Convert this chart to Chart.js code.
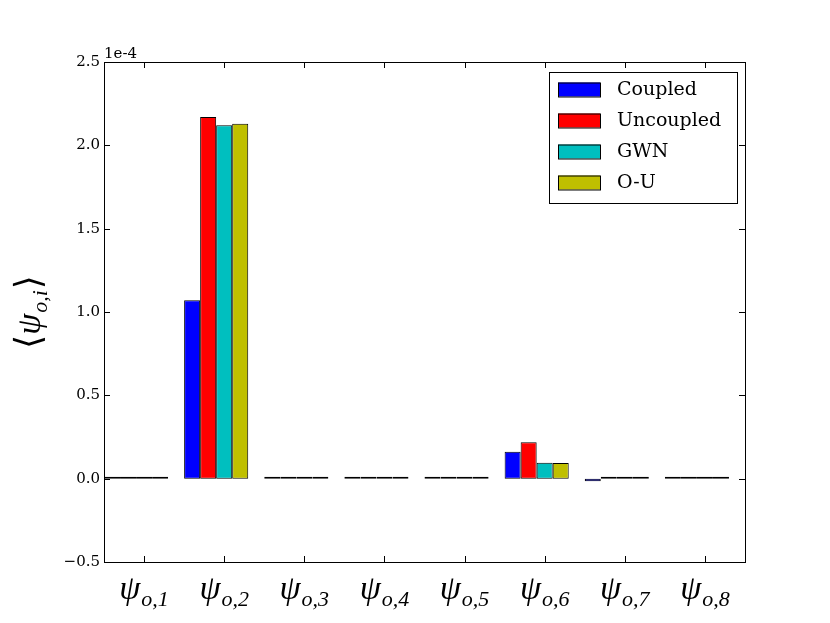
<!DOCTYPE html>
<html>
<head>
<meta charset="utf-8">
<script src="https://cdn.jsdelivr.net/npm/chart.js@4/dist/chart.umd.min.js"></script>
<style>
  html, body { margin: 0; padding: 0; background: #fff; }
  #wrap { width: 830px; height: 623px; }
</style>
</head>
<body>
<div id="wrap"><canvas id="chart"></canvas></div>
<script>
// valeurs en unités de 1e-4
const categories = ['ψ_{o,1}', 'ψ_{o,2}', 'ψ_{o,3}', 'ψ_{o,4}', 'ψ_{o,5}', 'ψ_{o,6}', 'ψ_{o,7}', 'ψ_{o,8}'];
const seriesNames = ['Coupled', 'Uncoupled', 'GWN', 'O-U'];
const seriesColors = ['#0000ff', '#ff0000', '#00bfbf', '#bfbf00'];
const coupled   = [0.002, 1.07, 0.002, 0.002, 0.005, 0.162, -0.015, 0.003];
const uncoupled = [0.001, 2.17, 0.001, 0.002, 0.002, 0.218, 0.001, 0.010];
const gwn       = [0.003, 2.12, 0.001, 0.002, 0.001, 0.096, 0.001, 0.010];
const ou        = [0.010, 2.13, 0.001, 0.002, 0.002, 0.094, 0.001, 0.010];
const yTicks = [-0.5, 0.0, 0.5, 1.0, 1.5, 2.0, 2.5];
const offsetText = '1e-4';
const yTitle = ['⟨', 'ψ', 'o,i', '⟩'];

const allSeries = [coupled, uncoupled, gwn, ou];
const serif = "'DejaVu Serif', serif";
const mathFont = "'Liberation Serif', serif";

// barres alignées sur le bord gauche (i .. i+0.8), ticks à i+0.5
const datasets = allSeries.map((vals, s) => ({
    label: seriesNames[s],
    data: vals.map((v, i) => ({ x: i + 0.4, y: v })),
    backgroundColor: seriesColors[s],
    borderColor: '#000',
    borderWidth: 1,
    borderSkipped: false,
    minBarLength: 2,
    categoryPercentage: 0.8,
    barPercentage: 1.0
}));

function drawMathLabel(ctx, x, y, base, sub, size) {
    // base en italique, indice plus petit
    ctx.font = 'italic ' + size + 'px ' + mathFont;
    const wb = ctx.measureText(base).width;
    const subSize = Math.round(size * 0.66);
    ctx.font = 'italic ' + subSize + 'px ' + mathFont;
    const ws = ctx.measureText(sub).width;
    const x0 = x - (wb + ws + 1) / 2;
    ctx.textAlign = 'left';
    ctx.textBaseline = 'alphabetic';
    ctx.font = 'italic ' + size + 'px ' + mathFont;
    ctx.fillText(base, x0, y);
    ctx.font = 'italic ' + subSize + 'px ' + mathFont;
    ctx.fillText(sub, x0 + wb + 1, y + size * 0.22);
}

const framePlugin = {
    id: 'frame',
    afterDraw(chart) {
        const ctx = chart.ctx;
        const a = chart.chartArea;
        const xs = chart.scales.x, ys = chart.scales.y;
        ctx.save();
        ctx.strokeStyle = '#000';
        ctx.lineWidth = 1;
        ctx.strokeRect(a.left + 0.5, a.top + 0.5, a.right - a.left, a.bottom - a.top);

        // ticks vers l'intérieur
        ctx.beginPath();
        yTicks.forEach(v => {
            const py = Math.round(ys.getPixelForValue(v)) + 0.5;
            ctx.moveTo(a.left, py); ctx.lineTo(a.left + 6, py);
            ctx.moveTo(a.right, py); ctx.lineTo(a.right - 6, py);
        });
        categories.forEach((c, i) => {
            const px = Math.round(xs.getPixelForValue(i + 0.5)) + 0.5;
            ctx.moveTo(px, a.bottom); ctx.lineTo(px, a.bottom - 6);
            ctx.moveTo(px, a.top); ctx.lineTo(px, a.top + 6);
        });
        ctx.stroke();

        // étiquettes x
        ctx.fillStyle = '#000';
        categories.forEach((c, i) => {
            const m = c.match(/^(.)_\{(.*)\}$/);
            const px = xs.getPixelForValue(i + 0.5);
            drawMathLabel(ctx, px, a.bottom + 37, m[1], m[2], 34);
        });

        // facteur d'échelle
        ctx.font = '15px ' + serif;
        ctx.textAlign = 'left';
        ctx.textBaseline = 'alphabetic';
        ctx.fillText(offsetText, a.left, a.top - 4);

        // titre de l'axe y
        ctx.save();
        ctx.translate(40, (a.top + a.bottom) / 2);
        ctx.rotate(-Math.PI / 2);
        ctx.font = '36px ' + "'DejaVu Sans', sans-serif";
        const wl = ctx.measureText(yTitle[0]).width;
        ctx.font = 'italic 34px ' + mathFont;
        const wp = ctx.measureText(yTitle[1]).width;
        ctx.font = 'italic 22px ' + mathFont;
        const wsb = ctx.measureText(yTitle[2]).width;
        ctx.font = '36px ' + "'DejaVu Sans', sans-serif";
        const wr = ctx.measureText(yTitle[3]).width;
        let x0 = -(wl + wp + wsb + wr + 2) / 2;
        ctx.textAlign = 'left';
        ctx.fillText(yTitle[0], x0, 0); x0 += wl;
        ctx.font = 'italic 34px ' + mathFont;
        ctx.fillText(yTitle[1], x0, 0); x0 += wp + 1;
        ctx.font = 'italic 22px ' + mathFont;
        ctx.fillText(yTitle[2], x0, 7); x0 += wsb + 1;
        ctx.font = '36px ' + "'DejaVu Sans', sans-serif";
        ctx.fillText(yTitle[3], x0, 0);
        ctx.restore();

        // légende
        const lx = a.right - 196, ly = a.top + 10, lw = 188, lh = 131;
        ctx.fillStyle = '#fff';
        ctx.fillRect(lx, ly, lw, lh);
        ctx.strokeStyle = '#000';
        ctx.strokeRect(lx + 0.5, ly + 0.5, lw, lh);
        ctx.font = '19px ' + serif;
        ctx.textBaseline = 'middle';
        chart.data.datasets.forEach((ds, k) => {
            const cy = ly + 17.5 + k * 31;
            ctx.fillStyle = ds.backgroundColor;
            ctx.fillRect(lx + 9, cy - 7, 42, 14);
            ctx.strokeRect(lx + 9.5, cy - 6.5, 42, 14);
            ctx.fillStyle = '#000';
            ctx.fillText(ds.label, lx + 68, cy + 1);
        });
        ctx.restore();
    }
};

new Chart(document.getElementById('chart'), {
    type: 'bar',
    data: { datasets: datasets },
    options: {
        responsive: true,
        maintainAspectRatio: false,
        animation: false,
        layout: { padding: { top: 62, right: 85, left: 0, bottom: 0 } },
        plugins: {
            legend: { display: false },
            tooltip: { enabled: false }
        },
        scales: {
            x: {
                type: 'linear',
                min: 0,
                max: 8,
                offset: false,
                grid: { display: false, drawTicks: false, offset: false },
                border: { display: false },
                ticks: { display: false },
                afterFit(scale) { scale.height = 61; }
            },
            y: {
                min: -0.5,
                max: 2.5,
                grid: { display: false, drawTicks: false },
                border: { display: false },
                afterBuildTicks(scale) { scale.ticks = yTicks.map(v => ({ value: v })); },
                ticks: {
                    color: '#000',
                    padding: 4,
                    font: { family: serif, size: 15 },
                    callback: v => v.toFixed(1).replace('-', '−')
                },
                afterFit(scale) { scale.width = 104; }
            }
        }
    },
    plugins: [framePlugin]
});
</script>
</body>
</html>
